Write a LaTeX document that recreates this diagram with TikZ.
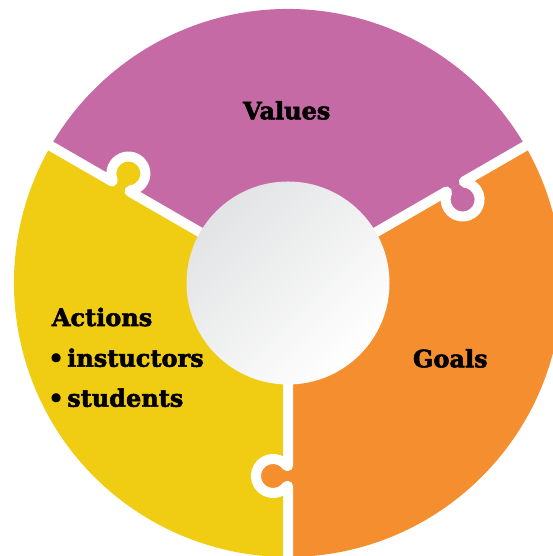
\documentclass[tikz,border=0pt]{standalone}
\usepackage{fontspec}
\usetikzlibrary{calc}
\newfontfamily\tagfont[FakeBold=2.2]{DejaVu Serif Bold}
\definecolor{valuesc}{HTML}{C66AA6}
\definecolor{actionsc}{HTML}{F0CC12}
\definecolor{goalsc}{HTML}{F58E2E}
\definecolor{hubgray}{HTML}{E2E3E4}

% one white seam along direction #1 between two ring pieces,
% with a puzzle knob of colour #2 bulging to the clockwise side
\newcommand\puzzleseam[2]{%
  \pgfmathsetmacro\knobstart{#1+126}%
  \pgfmathsetmacro\knobend{#1+414}%
  \coordinate (s0) at ($(c)+(#1:183)$);
  \coordinate (s1) at ($(c)+(#1:183)+(#1-90:1.25)$);
  \coordinate (s2) at ($(c)+(#1:203)$);
  \coordinate (s3) at ($(c)+(#1:290)$);
  \fill[#2] (s0) -- (s1) arc[start angle=\knobstart, end angle=\knobend, radius=17] -- (s2) -- cycle;
  \draw[seam] (c) -- (s0) -- (s1) arc[start angle=\knobstart, end angle=\knobend, radius=17] -- (s2) -- (s3);
}
\newcommand\listbullet{\kern-3.5pt•\hspace{3.5pt}}

\begin{document}
\begin{tikzpicture}[x=1pt,y=1pt,
  tagtext/.style={font=\fontsize{24}{28}\tagfont, inner sep=0pt, text=black},
  seam/.style={draw=white, line width=10pt, line join=round}]
\useasboundingbox (0,0) rectangle (553,556);
\coordinate (c) at (288,273);
\def\Rout{274}
\def\Rin{101.5}

% ring pieces
\fill[valuesc]  (c) -- ++(30:\Rout)  arc[start angle=30,  end angle=150, radius=\Rout] -- cycle;
\fill[actionsc] (c) -- ++(150:\Rout) arc[start angle=150, end angle=270, radius=\Rout] -- cycle;
\fill[goalsc]   (c) -- ++(270:\Rout) arc[start angle=270, end angle=390, radius=\Rout] -- cycle;

% seams with knobs
\puzzleseam{150}{actionsc}
\puzzleseam{30}{valuesc}
\puzzleseam{270}{goalsc}

% hub
\shade[top color=hubgray, bottom color=white, shading angle=45] (c) circle[radius=\Rin];

% labels
\node[tagtext, anchor=base] (values) at (286.7,436.7) {Values};
\node[tagtext, anchor=base] (goals) at (450.3,188.7) {Goals};
\node[tagtext, anchor=base west] (actions) at (51.7,230) {Actions};
\node[tagtext, anchor=base west] (instr) at (51.7,189.3) {\listbullet instuctors};
\node[tagtext, anchor=base west] (stud) at (51.7,149.3) {\listbullet students};
\end{tikzpicture}
\end{document}
